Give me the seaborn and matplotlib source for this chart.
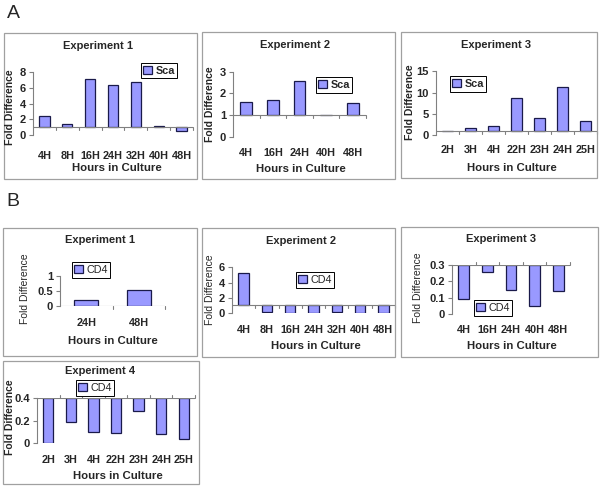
import matplotlib.pyplot as plt
import seaborn as sns
import pandas as pd
from matplotlib.patches import Rectangle

sns.set_style("white")
plt.rcParams['font.family'] = ['Liberation Sans', 'DejaVu Sans']

W, H = 601, 488

# --- data ---
a1_hours = ['4H', '8H', '16H', '24H', '32H', '40H', '48H']
a1_sca = [2.45, 1.45, 7.05, 6.3, 6.7, 1.1, 0.45]
a2_hours = ['4H', '16H', '24H', '40H', '48H']
a2_sca = [1.58, 1.68, 2.55, 1.0, 1.55]
a3_hours = ['2H', '3H', '4H', '22H', '23H', '24H', '25H']
a3_sca = [0.9, 1.6, 2.1, 8.75, 4.0, 11.3, 3.3]

b1_hours = ['24H', '48H']
b1_cd4 = [0.19, 0.51]
b2_hours = ['4H', '8H', '16H', '24H', '32H', '40H', '48H']
b2_cd4 = [5.2, 0.12, 0.05, 0.05, 0.1, 0.05, 0.05]
b3_hours = ['4H', '16H', '24H', '40H', '48H']
b3_cd4 = [0.09, 0.26, 0.15, 0.05, 0.14]
b4_hours = ['2H', '3H', '4H', '22H', '23H', '24H', '25H']
b4_cd4 = [0.0, 0.19, 0.10, 0.09, 0.29, 0.085, 0.036]

BAR = '#9999ff'
EDGE = '#1a1a4a'
GREY = '#808080'


def fx(px):
    return px / W


def fy(py):
    return 1 - py / H


fig = plt.figure(figsize=(W / 100, H / 100), dpi=100)


def panel(box, plot, hours, vals, series, base, ylim, yticks, ylabels,
          title, title_xy, xlab_xy, ylab_xy, leg_xy, label_y,
          tick_up=False, ylab_bold=True, leg_bold=True):
    # grey frame around each chart
    bx0, by0, bx1, by1 = box
    fig.patches.append(Rectangle((fx(bx0), fy(by1)), (bx1 - bx0) / W, (by1 - by0) / H,
                                 transform=fig.transFigure, fill=False,
                                 edgecolor='#a0a0a0', linewidth=0.9))
    x0, ytop, x1, ybot = plot
    ax = fig.add_axes([fx(x0), fy(ybot), (x1 - x0) / W, (ybot - ytop) / H])
    ax.set_facecolor('none')

    df = pd.DataFrame({'hours': hours, 'value': vals})
    df['height'] = df['value'] - base
    sns.barplot(data=df, x='hours', y='height', bottom=base, ax=ax, color=BAR,
                saturation=1, edgecolor=EDGE, linewidth=0.9, width=0.45,
                errorbar=None, label=series)

    n = len(hours)
    ax.set_xlim(-0.5, n - 0.5)
    ax.set_ylim(*ylim)
    ax.axhline(base, color=GREY, lw=0.8, zorder=3)
    # category boundary ticks on the baseline
    frac = (base - ylim[0]) / (ylim[1] - ylim[0])
    tl = 3 / (ybot - ytop)
    for k in range(n):
        y2 = frac + tl if tick_up else frac - tl
        ax.plot([k + 0.5, k + 0.5], [frac, y2], color=GREY, lw=0.8,
                transform=ax.get_xaxis_transform(), clip_on=False, zorder=3)

    for s in ['top', 'right', 'bottom']:
        ax.spines[s].set_visible(False)
    ax.spines['left'].set_color(GREY)
    ax.spines['left'].set_linewidth(0.8)

    ax.set_yticks(yticks)
    ax.set_yticklabels(ylabels, fontweight='bold')
    ax.tick_params(axis='y', direction='out', length=3, width=0.8, color=GREY,
                   labelsize=8, pad=2, left=True)
    pad_px = label_y - ybot - 5
    ax.tick_params(axis='x', length=0, labelsize=7.8, pad=pad_px * 0.72)
    for t in ax.get_xticklabels():
        t.set_fontweight('bold')
    ax.set_xlabel('')
    ax.set_ylabel('')

    h, l = ax.get_legend_handles_labels()
    ax.legend(h[:1], l[:1], loc='center', bbox_to_anchor=(fx(leg_xy[0]), fy(leg_xy[1])),
              bbox_transform=fig.transFigure, frameon=True, fancybox=False,
              edgecolor='black', framealpha=1, borderaxespad=0, borderpad=0.25,
              handlelength=0.8, handleheight=0.8, handletextpad=0.3,
              prop={'size': 7.8, 'weight': 'bold' if leg_bold else 'normal'})
    ax.get_legend().get_frame().set_linewidth(0.7)

    fig.text(fx(title_xy[0]), fy(title_xy[1]), title, ha='center', va='center',
             fontsize=8, fontweight='bold')
    fig.text(fx(xlab_xy[0]), fy(xlab_xy[1]), 'Hours in Culture', ha='center',
             va='center', fontsize=8.2, fontweight='bold')
    fig.text(fx(ylab_xy[0]), fy(ylab_xy[1]), 'Fold Difference', ha='center',
             va='center', rotation=90, fontsize=7.5,
             fontweight='bold' if ylab_bold else 'normal')
    return ax


# ---- row A ----
panel((4, 33, 197, 179), (33, 72, 193, 135), a1_hours, a1_sca, 'Sca', 1,
      (0, 8), [0, 2, 4, 6, 8], ['0', '2', '4', '6', '8'],
      'Experiment 1', (98, 46), (117, 168), (10, 107), (159, 70.5), 156)
panel((202, 32, 395, 179), (233, 71.7, 366, 136.7), a2_hours, a2_sca, 'Sca', 1,
      (0, 3), [0, 1, 2, 3], ['0', '1', '2', '3'],
      'Experiment 2', (295, 45), (301, 169), (210, 104), (334, 85), 153)
panel((401, 32, 597, 178), (436, 71.3, 597, 135.3), a3_hours, a3_sca, 'Sca', 1,
      (0, 15), [0, 5, 10, 15], ['0', '5', '10', '15'],
      'Experiment 3', (496, 45), (512, 168), (410, 102), (468, 84), 150)

# ---- row B ----
panel((3, 228, 197, 356), (60, 275.7, 165, 305.7), b1_hours, b1_cd4, 'CD4', 0,
      (0, 1), [0, 0.5, 1], ['0', '0.5', '1'],
      'Experiment 1', (100, 240), (113, 341), (25, 289), (91, 270), 323,
      ylab_bold=False, leg_bold=False)
panel((202, 228, 395, 357), (232, 267.3, 395, 313), b2_hours, b2_cd4, 'CD4', 1,
      (0, 6), [0, 2, 4, 6], ['0', '2', '4', '6'],
      'Experiment 2', (301, 241), (316, 346), (210, 290), (315, 280), 330,
      ylab_bold=False, leg_bold=False)
panel((401, 227, 598, 357), (452, 265, 570, 314), b3_hours, b3_cd4, 'CD4', 0.3,
      (0, 0.3), [0, 0.1, 0.2, 0.3], ['0', '0.1', '0.2', '0.3'],
      'Experiment 3', (501, 239), (512, 346), (418, 288), (493, 308), 330,
      tick_up=True, ylab_bold=False, leg_bold=False)
panel((3, 361, 199, 484), (37, 398.3, 195, 443.3), b4_hours, b4_cd4, 'CD4', 0.4,
      (0, 0.4), [0, 0.2, 0.4], ['0', '0.2', '0.4'],
      'Experiment 4', (100, 371), (118, 476), (10, 417), (95, 388), 460,
      tick_up=True, leg_bold=False)

fig.text(fx(13), fy(14), 'A', ha='center', va='center', fontsize=14)
fig.text(fx(13), fy(202), 'B', ha='center', va='center', fontsize=14)

fig.savefig('out.png', dpi=100)
